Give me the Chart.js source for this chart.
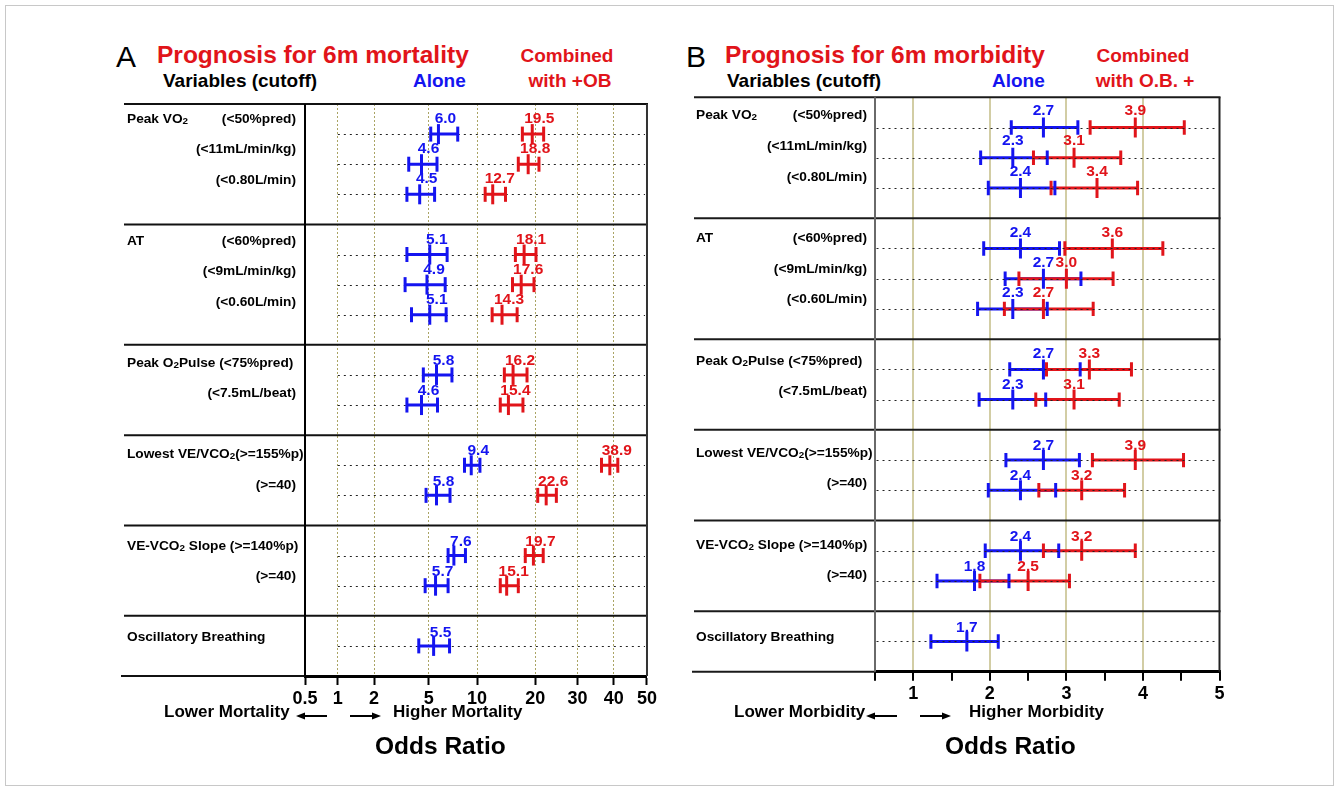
<!DOCTYPE html>
<html>
<head>
<meta charset="utf-8">
<title>Prognosis for 6m mortality / morbidity</title>
<script src="https://cdn.jsdelivr.net/npm/chart.js@4.4.1/dist/chart.umd.min.js"></script>
<style>
  html, body { margin: 0; padding: 0; background: #fff; }
  body { width: 1339px; height: 791px; position: relative; overflow: hidden; font-family: "Liberation Sans", Arial, sans-serif; }
  .frame { position: absolute; left: 5px; top: 5px; width: 1327px; height: 779px; border: 1px solid #c8c8c8; }
  .t { position: absolute; white-space: nowrap; font-weight: bold; line-height: 1; color: #000; }
  .red { color: #e1141a; }
  .blue { color: #1414f0; }
  .panel { position: absolute; }
  svg.arrows { position: absolute; left: 0; top: 0; }
</style>
</head>
<body>
<div class="frame"></div>

<!-- panel A headers -->
<div class="t" style="left:116px;top:42px;font-size:30px;font-weight:normal">A</div>
<div class="t red" style="left:157px;top:43px;font-size:24.5px">Prognosis for 6m mortality</div>
<div class="t" style="left:163px;top:71px;font-size:19px">Variables (cutoff)</div>
<div class="t blue" style="left:413px;top:71px;font-size:19px">Alone</div>
<div class="t red" style="left:507px;width:120px;text-align:center;top:46px;font-size:19px">Combined</div>
<div class="t red" style="left:510px;width:120px;text-align:center;top:71px;font-size:19px">with +OB</div>

<!-- panel B headers -->
<div class="t" style="left:686px;top:42px;font-size:30px;font-weight:normal">B</div>
<div class="t red" style="left:725px;top:43px;font-size:24.5px">Prognosis for 6m morbidity</div>
<div class="t" style="left:727px;top:71px;font-size:19px">Variables (cutoff)</div>
<div class="t blue" style="left:992px;top:71px;font-size:19px">Alone</div>
<div class="t red" style="left:1083px;width:120px;text-align:center;top:46px;font-size:19px">Combined</div>
<div class="t red" style="left:1085px;width:120px;text-align:center;top:71px;font-size:19px">with O.B. +</div>

<div class="panel" style="left:110px;top:90px;width:550px;height:630px"><canvas id="chartA"></canvas></div>
<div class="panel" style="left:680px;top:84px;width:555px;height:636px"><canvas id="chartB"></canvas></div>

<!-- axis notes -->
<div class="t" style="left:164px;top:703px;font-size:17px">Lower Mortality</div>
<div class="t" style="left:393px;top:703px;font-size:17px">Higher Mortality</div>
<div class="t" style="left:375px;top:734px;font-size:24.5px">Odds Ratio</div>
<div class="t" style="left:734px;top:703px;font-size:17px">Lower Morbidity</div>
<div class="t" style="left:969px;top:703px;font-size:17px">Higher Morbidity</div>
<div class="t" style="left:945px;top:734px;font-size:24.5px">Odds Ratio</div>

<svg class="arrows" width="1339" height="791">
  <g stroke="#000" stroke-width="2">
    <line x1="327" y1="716" x2="303" y2="716"/>
    <line x1="350" y1="716" x2="374" y2="716"/>
    <line x1="897" y1="716" x2="873" y2="716"/>
    <line x1="920" y1="716" x2="944" y2="716"/>
  </g>
  <g fill="#000">
    <polygon points="296,716 305,712.5 305,719.5"/>
    <polygon points="381,716 372,712.5 372,719.5"/>
    <polygon points="866,716 875,712.5 875,719.5"/>
    <polygon points="951,716 942,712.5 942,719.5"/>
  </g>
</svg>

<script>
// ---------- data ----------
const groupNames = ['Peak VO_2', 'AT', 'Peak O_2Pulse ', 'Lowest VE/VCO_2', 'VE-VCO_2 Slope ', 'Oscillatory Breathing'];
const groupSizes = [3, 3, 2, 2, 2, 1];
const cutoffs = ['(<50%pred)', '(<11mL/min/kg)', '(<0.80L/min)',
                 '(<60%pred)', '(<9mL/min/kg)', '(<0.60L/min)',
                 '(<75%pred)', '(<7.5mL/beat)',
                 '(>=155%p)', '(>=40)',
                 '(>=140%p)', '(>=40)',
                 ''];

// A: 6m mortality (odds ratio, printed scale is piecewise between tick values)
const oddsTicksA = [0.5, 1, 2, 5, 10, 20, 30, 40, 50];
const aloneA   = [6.0, 4.6, 4.5, 5.1, 4.9, 5.1, 5.8, 4.6, 9.4, 5.8, 7.6, 5.7, 5.5];
const aloneLoA = [5.2, 3.9, 3.8, 3.8, 3.7, 4.05, 4.7, 3.8, 8.7, 4.85, 7.0, 4.8, 4.45];
const aloneHiA = [8.0, 5.85, 5.6, 6.9, 6.7, 6.8, 7.4, 5.9, 10.5, 7.2, 8.8, 7.0, 7.15];
const combA    = [19.5, 18.8, 12.7, 18.1, 17.6, 14.3, 16.2, 15.4, 38.9, 22.6, 19.7, 15.1, null];
const combLoA  = [17.8, 17.1, 11.4, 16.6, 16.1, 12.6, 14.7, 14.0, 36.6, 20.6, 18.3, 14.0, null];
const combHiA  = [22.0, 20.9, 14.9, 20.2, 19.8, 16.9, 18.6, 17.9, 41.2, 25.0, 21.9, 17.1, null];

// B: 6m morbidity
const oddsTicksB = [1, 2, 3, 4, 5];
const aloneB   = [2.7, 2.3, 2.4, 2.4, 2.7, 2.3, 2.7, 2.3, 2.7, 2.4, 2.4, 1.8, 1.7];
const aloneLoB = [2.28, 1.88, 1.98, 1.92, 2.20, 1.84, 2.26, 1.86, 2.21, 1.98, 1.94, 1.31, 1.23];
const aloneHiB = [3.15, 2.75, 2.85, 2.91, 3.19, 2.75, 3.18, 2.73, 3.17, 2.86, 2.90, 2.25, 2.11];
const combB    = [3.9, 3.1, 3.4, 3.6, 3.0, 2.7, 3.3, 3.1, 3.9, 3.2, 3.2, 2.5, null];
const combLoB  = [3.31, 2.57, 2.80, 2.98, 2.38, 2.19, 2.74, 2.60, 3.34, 2.64, 2.70, 1.87, null];
const combHiB  = [4.54, 3.71, 3.93, 4.26, 3.61, 3.35, 3.85, 3.69, 4.53, 3.76, 3.90, 3.04, null];

// ---------- layout ----------
const BLUE = '#1414f0';
const RED = '#e1141a';
const FONT = '"Liberation Sans", Arial, sans-serif';

// where each tick of the printed mortality axis sits (0..1 across the plot)
const tickPosA = [0, 0.096, 0.202, 0.362, 0.503, 0.673, 0.797, 0.903, 1];
function toAxisA(v) {
  if (v == null) return null;
  for (let i = 1; i < oddsTicksA.length; i++) {
    if (v <= oddsTicksA[i]) {
      const f = (v - oddsTicksA[i - 1]) / (oddsTicksA[i] - oddsTicksA[i - 1]);
      return tickPosA[i - 1] + f * (tickPosA[i] - tickPosA[i - 1]);
    }
  }
  return 1;
}

// row slots: one blank slot between groups
const rowSlot = [], sepSlot = [0];
let slot = 1;
groupSizes.forEach(n => {
  for (let k = 0; k < n; k++) rowSlot.push(slot++);
  sepSlot.push(slot);
  slot++;
});
const ySpan = sepSlot[sepSlot.length - 1];

Chart.defaults.font.family = FONT;
Chart.defaults.color = '#000';

function richParts(str) { return str.split(/_(\d)/); }
function richWidth(ctx, str, size) {
  let w = 0;
  richParts(str).forEach((p, i) => { ctx.font = `bold ${i % 2 ? size * 0.72 : size}px ${FONT}`; w += ctx.measureText(p).width; });
  return w;
}
function drawRich(ctx, str, x, y, size, align) {
  const w = richWidth(ctx, str, size);
  let cx = align === 'right' ? x - w : x;
  ctx.textAlign = 'left';
  ctx.textBaseline = 'middle';
  richParts(str).forEach((p, i) => {
    ctx.font = `bold ${i % 2 ? size * 0.72 : size}px ${FONT}`;
    ctx.fillText(p, cx, i % 2 ? y + 2 : y);
    cx += ctx.measureText(p).width;
  });
}

function framePlugin(cfg) {
  const drawDots = chart => {
    const {ctx, chartArea: a, scales: {x, y}} = chart;
    ctx.save();
    ctx.strokeStyle = '#222';
    ctx.lineWidth = 1;
    ctx.setLineDash([2, 4]);
    const x0 = x.getPixelForValue(cfg.dotFrom);
    rowSlot.forEach(sl => {
      const py = Math.round(y.getPixelForValue(sl)) + 0.5;
      ctx.beginPath(); ctx.moveTo(x0, py); ctx.lineTo(a.right - 2, py); ctx.stroke();
    });
    ctx.restore();
  };
  return {
    id: 'frame' + cfg.name,
    beforeDatasetsDraw(chart) {
      const {ctx, chartArea: a, scales: {y}} = chart;
      ctx.save();
      if (!cfg.dotsOnTop) drawDots(chart);
      // group rules
      ctx.strokeStyle = cfg.ruleColor;
      ctx.lineWidth = 2;
      sepSlot.forEach((sl, i) => {
        const last = i === sepSlot.length - 1;
        const py = y.getPixelForValue(sl);
        ctx.beginPath();
        ctx.moveTo(last ? cfg.axisRuleLeft : cfg.ruleLeft, py);
        ctx.lineTo(last ? a.left : a.right + 1, py);
        ctx.stroke();
      });
      // plot edges
      ctx.strokeStyle = cfg.leftEdge; ctx.lineWidth = 2;
      ctx.beginPath(); ctx.moveTo(a.left, a.top); ctx.lineTo(a.left, a.bottom); ctx.stroke();
      ctx.strokeStyle = cfg.rightEdge; ctx.lineWidth = 2;
      ctx.beginPath(); ctx.moveTo(a.right, a.top); ctx.lineTo(a.right, a.bottom); ctx.stroke();
      // row labels
      ctx.fillStyle = '#000';
      const size = 13.7;
      let r = 0;
      groupNames.forEach((name, g) => {
        for (let k = 0; k < groupSizes[g]; k++, r++) {
          const sl = rowSlot[r];
          const py = y.getPixelForValue(sl) + cfg.labelDy[0] + cfg.labelDy[1] * (sl - 1) / (ySpan - 2);
          const cut = cutoffs[r];
          if (k === 0) {
            const room = cfg.labelRight - cfg.labelLeft;
            if (richWidth(ctx, name, size) + richWidth(ctx, cut, size) + 16 > room) {
              drawRich(ctx, name + cut, cfg.labelLeft, py, size, 'left');
            } else {
              drawRich(ctx, name, cfg.labelLeft, py, size, 'left');
              if (cut) drawRich(ctx, cut, cfg.labelRight, py, size, 'right');
            }
          } else {
            drawRich(ctx, cut, cfg.labelRight, py, size, 'right');
          }
        }
      });
      ctx.restore();
    },
    afterDatasetsDraw(chart) {
      const {ctx, scales: {x, y}} = chart;
      if (cfg.dotsOnTop) drawDots(chart);
      ctx.save();
      ctx.font = `bold 15.5px ${FONT}`;
      ctx.textAlign = 'center';
      ctx.textBaseline = 'middle';
      [[cfg.alone, BLUE], [cfg.comb, RED]].forEach(([vals, color]) => {
        ctx.fillStyle = color;
        vals.forEach((v, i) => {
          if (v == null) return;
          const sl = rowSlot[i];
          const px = x.getPixelForValue(cfg.conv(v)) + cfg.valueDx;
          const py = y.getPixelForValue(sl) + cfg.valueDy[0] + cfg.valueDy[1] * (sl - 1) / (ySpan - 2);
          ctx.fillText(v.toFixed(1), px, py);
        });
      });
      ctx.restore();
    }
  };
}

function errorSets(mid, lo, hi, color, conv, k, cfg) {
  const bar = [], caps = [], mids = [];
  mid.forEach((m, i) => {
    if (m == null) return;
    const y = rowSlot[i];
    bar.push({x: conv(lo[i]), y}, {x: conv(hi[i]), y}, {x: conv(hi[i]), y: null});
    caps.push({x: conv(lo[i]), y}, {x: conv(hi[i]), y});
    mids.push({x: conv(m), y});
  });
  const pt = r => ({showLine: false, pointStyle: 'line', pointRotation: 90, pointRadius: r, pointHoverRadius: r,
                    pointBorderColor: color, pointBackgroundColor: color, pointBorderWidth: 3, borderColor: color});
  return [
    {data: bar, showLine: true, spanGaps: false, borderColor: color, borderWidth: 3, pointRadius: 0, pointHoverRadius: 0, order: 5 + k},
    Object.assign({data: caps, order: 3 + k}, pt(cfg.capR)),
    Object.assign({data: mids, order: 1 + k}, pt(cfg.midR))
  ];
}

function makePanel(id, cfg) {
  const datasets = [
    ...errorSets(cfg.alone, cfg.aloneLo, cfg.aloneHi, BLUE, cfg.conv, 1, cfg),
    ...errorSets(cfg.comb, cfg.combLo, cfg.combHi, RED, cfg.conv, 0, cfg)
  ];
  return new Chart(document.getElementById(id), {
    type: 'scatter',
    data: { datasets },
    options: {
      responsive: true, maintainAspectRatio: false, animation: false, events: [],
      layout: { padding: cfg.padding },
      plugins: { legend: { display: false }, tooltip: { enabled: false } },
      scales: {
        x: cfg.xScale,
        y: { type: 'linear', min: 0, max: ySpan, reverse: true, display: false }
      }
    },
    plugins: [framePlugin(cfg)]
  });
}

const cfgA = {
  name: 'A', conv: toAxisA,
  alone: aloneA, aloneLo: aloneLoA, aloneHi: aloneHiA, comb: combA, combLo: combLoA, combHi: combHiA,
  padding: { left: 195, right: 11, top: 14, bottom: 8 },
  ruleLeft: 14, axisRuleLeft: 11, labelLeft: 17, labelRight: 186,
  labelDy: [-15, 6.5], valueDy: [-15.5, 2], valueDx: 7,
  dotFrom: toAxisA(1), dotsOnTop: false,
  ruleColor: '#111', leftEdge: '#000', rightEdge: '#333',
  capR: 7.5, midR: 10,
  xScale: {
    type: 'linear', min: 0, max: 1,
    afterBuildTicks: s => { s.ticks = tickPosA.map(v => ({ value: v })); },
    afterFit: s => { s.height = 36; },
    ticks: { autoSkip: false, maxRotation: 0, padding: 3, color: '#000',
             font: { size: 18, weight: 'bold' }, callback: (v, i) => oddsTicksA[i] },
    grid: { color: c => (c.index > 0 && c.index < tickPosA.length - 1) ? '#aaa464' : 'rgba(0,0,0,0)',
            lineWidth: 1, tickLength: 9, tickColor: '#000', tickWidth: 2 },
    border: { display: true, color: '#000', width: 3, dash: [2, 2] }
  }
};

const cfgB = {
  name: 'B', conv: v => v,
  alone: aloneB, aloneLo: aloneLoB, aloneHi: aloneHiB, comb: combB, combLo: combLoB, combHi: combHiB,
  padding: { left: 195, right: 15.5, top: 13.3, bottom: 12.3 },
  ruleLeft: 14, axisRuleLeft: 12, labelLeft: 16, labelRight: 187,
  labelDy: [-12, 7.6], valueDy: [-17, 3.5], valueDx: 0,
  dotFrom: 0.52, dotsOnTop: true,
  ruleColor: '#1a1a1a', leftEdge: '#6a6a6a', rightEdge: '#222',
  capR: 7.2, midR: 10,
  xScale: {
    type: 'linear', min: 0.5, max: 5,
    afterFit: s => { s.height = 36; },
    ticks: { stepSize: 0.5, autoSkip: false, maxRotation: 0, padding: 3, color: '#000',
             font: { size: 18, weight: 'bold' },
             callback: v => oddsTicksB.includes(v) ? v : '' },
    grid: { color: c => (c.tick && oddsTicksB.includes(c.tick.value) && c.tick.value < 5) ? '#d2cda4' : 'rgba(0,0,0,0)',
            lineWidth: 2, tickLength: 9, tickColor: '#000', tickWidth: 2 },
    border: { display: true, color: '#000', width: 3 }
  }
};

makePanel('chartA', cfgA);
makePanel('chartB', cfgB);
</script>
</body>
</html>
